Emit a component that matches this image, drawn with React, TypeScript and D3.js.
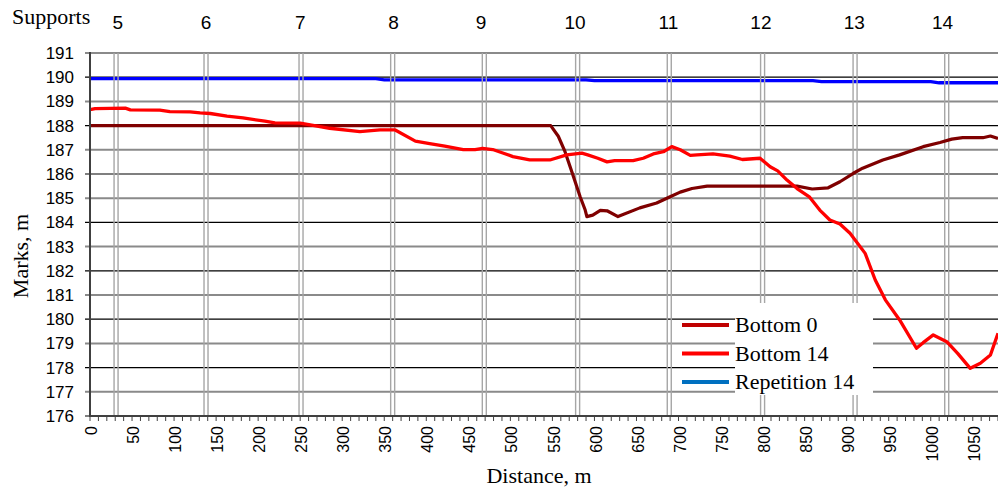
import React from 'react';
import * as d3 from 'd3';

// Distance (m) / mark (m) pairs
const bottom0: [number, number][] = [
  [0, 188], [548, 188], [557, 187.56], [565, 186.92], [573, 186.1], [583, 185.06],
  [589, 184.51], [591, 184.24], [598, 184.3], [607, 184.5], [615, 184.48], [628, 184.24],
  [654, 184.6], [674, 184.8], [690, 185.06], [702, 185.25], [716, 185.4], [734, 185.5],
  [841, 185.5], [859, 185.38], [878, 185.43], [892, 185.68], [908, 186.03], [919, 186.24],
  [943, 186.58], [963, 186.79], [991, 187.13], [1011, 187.3], [1025, 187.44], [1038, 187.5],
  [1062, 187.5], [1071, 187.57], [1080, 187.47],
];

const bottom14: [number, number][] = [
  [0, 188.66], [6, 188.7], [42, 188.72], [48, 188.65], [83, 188.64], [95, 188.58],
  [119, 188.57], [131, 188.53], [143, 188.5], [163, 188.39], [182, 188.32], [208, 188.18],
  [220, 188.11], [250, 188.1], [262, 188.03], [285, 187.89], [321, 187.75], [345, 187.82],
  [363, 187.82], [387, 187.36], [404, 187.26], [422, 187.15], [444, 187.01], [458, 187.01],
  [467, 187.06], [479, 187.01], [491, 186.87], [503, 186.72], [523, 186.58], [547, 186.58],
  [567, 186.79], [585, 186.86], [592, 186.79], [604, 186.65], [615, 186.5], [624, 186.55],
  [646, 186.55], [658, 186.65], [670, 186.83], [682, 186.92], [692, 187.13], [702, 187.0],
  [714, 186.77], [722, 186.79], [741, 186.83], [761, 186.74], [776, 186.6], [797, 186.65],
  [809, 186.3], [818, 186.13], [829, 185.75], [841, 185.4], [856, 185.04], [868, 184.51],
  [880, 184.1], [892, 183.93], [904, 183.55], [922, 182.72], [934, 181.62], [946, 180.8],
  [963, 179.97], [983, 178.8], [991, 179.03], [1003, 179.35], [1019, 179.07], [1032, 178.59],
  [1047, 177.97], [1059, 178.18], [1071, 178.52], [1080, 179.42],
];

const repetition14: [number, number][] = [
  [0, 189.94], [340, 189.94], [350, 189.89], [590, 189.89], [600, 189.86], [860, 189.86],
  [870, 189.82], [1000, 189.82], [1010, 189.77], [1080, 189.77],
];

const supports = [31, 138, 251, 360, 469, 580, 689, 800, 910, 1019];
const supportLabels = ['5', '6', '7', '8', '9', '10', '11', '12', '13', '14'];
// where the support numbers sit along the top (m), slightly off the pier lines
const supportLabelAt = [33, 138, 250, 361, 465, 577, 688, 798, 909, 1014];

const xTicks = d3.range(0, 1051, 50);
const xMinorTicks = d3.range(0, 1081, 10);
const yTicks = d3.range(176, 192, 1);

const legendItems = [
  { label: 'Bottom 0', color: '#C00000' },
  { label: 'Bottom 14', color: '#FF0000' },
  { label: 'Repetition 14', color: '#0070C0' },
];

const W = 998;
const H = 487;
const sans = '"Liberation Sans", Arial, sans-serif';
const serif = '"Liberation Serif", "Times New Roman", serif';

export default function App() {
  const x = d3.scaleLinear().domain([0, 1080]).range([90, 998]);
  const y = d3.scaleLinear().domain([176, 191]).range([416, 53]);
  const line = d3.line<[number, number]>().x(d => x(d[0])).y(d => y(d[1]));

  return (
    <svg width={W} height={H} style={{ position: 'absolute', left: 0, top: 0, background: '#fff' }}>
      <rect width={W} height={H} fill="#fff" />

      {/* horizontal grid */}
      {yTicks.map(v => (
        <line key={'g' + v} x1={85} x2={998} y1={y(v)} y2={y(v)}
          stroke={v % 2 === 1 ? '#8a8a8a' : '#000'} strokeWidth={v % 2 === 1 ? 2 : 1.2} />
      ))}

      {/* y labels */}
      {yTicks.map(v => (
        <text key={'yl' + v} x={74} y={y(v)} dy="0.35em" textAnchor="end"
          fontFamily={sans} fontSize={17} fill="#000">{v}</text>
      ))}

      <path d={line(repetition14) || ''} fill="none" stroke="#0000FF" strokeWidth={3.3} />

      {/* supports: double lines */}
      {supports.map(s => (
        <g key={'s' + s}>
          <line x1={x(s) - 2} x2={x(s) - 2} y1={53} y2={416} stroke="#a6a6a6" strokeWidth={1.4} />
          <line x1={x(s) + 2} x2={x(s) + 2} y1={53} y2={416} stroke="#a6a6a6" strokeWidth={1.4} />
        </g>
      ))}

      <path d={line(bottom0) || ''} fill="none" stroke="#7f0000" strokeWidth={3.2} strokeLinejoin="round" />
      <path d={line(bottom14) || ''} fill="none" stroke="#FF0000" strokeWidth={3.3} strokeLinejoin="round" />

      {/* axes */}
      <line x1={90} x2={90} y1={52} y2={417} stroke="#404040" strokeWidth={2} />
      <line x1={89} x2={998} y1={416} y2={416} stroke="#404040" strokeWidth={2} />
      {xMinorTicks.map(t => (
        <line key={'xt' + t} x1={x(t)} x2={x(t)} y1={416} y2={421} stroke="#404040" strokeWidth={1} />
      ))}
      {xTicks.map(t => (
        <text key={'xl' + t} transform={`translate(${x(t) + 1.5},426) rotate(-90)`} dy="0.35em"
          textAnchor="end" fontFamily={sans} fontSize={16} fill="#000">{t}</text>
      ))}

      {/* support labels */}
      <text x={12} y={24} fontFamily={serif} fontSize={22} fill="#000">Supports</text>
      {supportLabelAt.map((s, i) => (
        <text key={'sl' + s} x={x(s)} y={29} textAnchor="middle"
          fontFamily={sans} fontSize={19} fill="#000">{supportLabels[i]}</text>
      ))}

      {/* axis titles */}
      <text x={539} y={483} textAnchor="middle" fontFamily={serif} fontSize={22} fill="#000">Distance, m</text>
      <text transform="translate(28,256) rotate(-90)" textAnchor="middle" fontFamily={serif} fontSize={22} fill="#000">Marks, m</text>

      {/* legend */}
      <rect x={735} y={303} width={138} height={92} fill="#fff" />
      {legendItems.map((it, i) => (
        <g key={it.label} transform={`translate(0,${i * 28.5})`}>
          <line x1={682} x2={729} y1={325} y2={325} stroke={it.color} strokeWidth={4} />
          <text x={735} y={332} fontFamily={serif} fontSize={22} fill="#000">{it.label}</text>
        </g>
      ))}
    </svg>
  );
}
